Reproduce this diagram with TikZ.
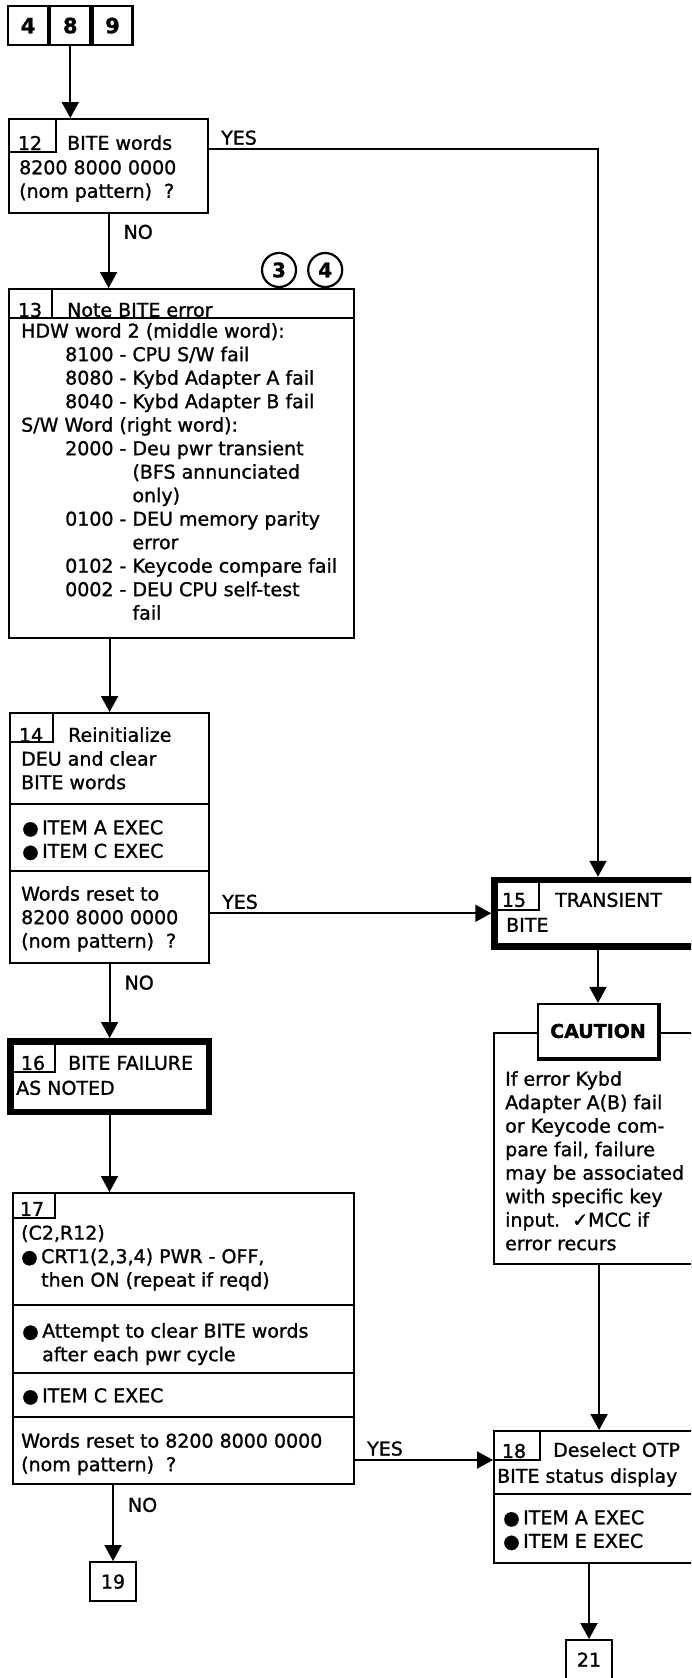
\documentclass[tikz,border=0pt]{standalone}
\usepackage{fontspec}
\setmainfont{DejaVu Sans}[FakeBold=1.2]
\usepackage{tikz}
\usetikzlibrary{positioning, arrows.meta, calc}

\newcommand{\bul}{\makebox[20pt][l]{●}}

\begin{document}
\begin{tikzpicture}[
        x=1pt, y=-1pt,
        every node/.style={font=\fontsize{19}{23.5}\selectfont, inner sep=0pt},
        box/.style={draw, line width=2.2pt, anchor=north west},
        heavy/.style={draw, line width=6.5pt, anchor=north west},
        cell/.style={draw, line width=2.2pt, minimum width=40pt, minimum height=39pt,
                     font=\fontsize{21}{21}\selectfont\bfseries},
        ring/.style={draw, circle, line width=2.2pt, minimum size=34pt,
                     font=\fontsize{20}{20}\selectfont\bfseries},
        txt/.style={anchor=north west, align=left},
        row/.style={anchor=base west},
        rule/.style={line width=2.2pt},
        arrow/.style={-{Triangle[length=16pt, width=17pt]}, line width=2pt},
        yeslbl/.style={anchor=base west, xshift=11pt, yshift=4.5pt},
        nolbl/.style={anchor=west, xshift=14pt}
    ]
    \useasboundingbox (0,0) rectangle (691,1678);
    \clip (0,0) rectangle (691,1678);

    % --- Entry ---
    \node[cell, anchor=north west] (n4) at (7,5) {4};
    \node[cell, right=0pt of n4] (n8) {8};
    \node[cell, right=0pt of n8] (n9) {9};

    % --- Step 12 ---
    \node[box, minimum width=199pt, minimum height=94pt] (b12) at (8,118) {};
    \draw[rule] ([xshift=48pt]b12.north west) -- ++(0,34) -- ++(-48,0);
    \node (t12) at (30,143) {12};
    \node[row] (s12) at (67,149.75) {BITE words};
    \node[txt] (x12) at (19,160) {8200 8000 0000\\(nom pattern)\ \ ?};

    % --- Step 13 ---
    \node[box, minimum width=345pt, minimum height=349pt] (b13) at (8,288) {};
    \draw[rule] (b13.north west) ++(0,30) -- ++(345,0);
    \draw[rule] ([xshift=44pt]b13.north west) -- ++(0,30);
    \node (t13) at (30,310) {13};
    \node[row] (s13) at (67,316.75) {Note BITE error};
    \node[txt] (x13) at (21,323) {HDW word 2 (middle word):\\
        \hspace*{44pt}8100 - CPU S/W fail\\
        \hspace*{44pt}8080 - Kybd Adapter A fail\\
        \hspace*{44pt}8040 - Kybd Adapter B fail\\
        S/W Word (right word):\\
        \hspace*{44pt}2000 - Deu pwr transient\\
        \hspace*{44pt}\phantom{2000 - }(BFS annunciated\\
        \hspace*{44pt}\phantom{2000 - }only)\\
        \hspace*{44pt}0100 - DEU memory parity\\
        \hspace*{44pt}\phantom{0100 - }error\\
        \hspace*{44pt}0102 - Keycode compare fail\\
        \hspace*{44pt}0002 - DEU CPU self-test\\
        \hspace*{44pt}\phantom{0002 - }fail};
    \node[ring] (c3) at (279,270) {3};
    \node[ring, right=10pt of c3] (c4) {4};

    % --- Step 14 ---
    \node[box, minimum width=199pt, minimum height=250pt] (b14) at (9,712) {};
    \draw[rule] ([xshift=44pt]b14.north west) -- ++(0,30) -- ++(-44,0);
    \draw[rule] (b14.north west) ++(0,92) -- ++(199,0);
    \draw[rule] (b14.north west) ++(0,159) -- ++(199,0);
    \node (t14) at (31,735) {14};
    \node[row] (s14) at (68,741.75) {Reinitialize};
    \node[txt] (x14) at (21,751) {DEU and clear\\BITE words};
    \node[txt] (i14) at (22,820) {\bul ITEM A EXEC\\\bul ITEM C EXEC};
    \node[txt] (q14) at (21,886) {Words reset to\\8200 8000 0000\\(nom pattern)\ \ ?};

    % --- Step 15 ---
    \node[heavy, minimum width=207pt, minimum height=66.5pt] (b15) at (491.25,876.75) {};
    \draw[rule] ([xshift=47.75pt]b15.north west) -- ++(0,33.25) -- ++(-47.75,0);
    \node (t15) at (514,900) {15};
    \node[row] (s15) at (555,906.75) {TRANSIENT};
    \node[row] (u15) at (506,931.75) {BITE};

    % --- Caution ---
    \node[box, minimum width=210pt, minimum height=231pt] (cframe) at (493,1032) {};
    \node[draw, fill=white, line width=2.2pt, minimum width=120pt, minimum height=54pt,
          font=\fontsize{19}{19}\selectfont\bfseries] (caution) at (598,1031) {CAUTION};
    \draw[line width=4pt] (caution.north east) -- (caution.south east) -- (caution.south west);
    \node[txt] (xc) at (505,1071) {If error Kybd\\Adapter A(B) fail\\or Keycode com-\\
        pare fail, failure\\may be associated\\with specific key\\input.\ \ ✓MCC if\\error recurs};

    % --- Step 16 ---
    \node[heavy, minimum width=198.5pt, minimum height=70.5pt] (b16) at (7,1038) {};
    \draw[rule] ([xshift=48pt]b16.north west) -- ++(0,34) -- ++(-48,0);
    \node (t16) at (33,1063) {16};
    \node[row] (s16) at (68,1069.75) {BITE FAILURE};
    \node[row] (u16) at (16,1094.75) {AS NOTED};

    % --- Step 17 ---
    \node[box, minimum width=341pt, minimum height=291pt] (b17) at (12,1192) {};
    \draw[rule] ([xshift=43pt]b17.north west) -- ++(0,26) -- ++(-43,0);
    \draw[rule] (b17.north west) ++(0,113) -- ++(341,0);
    \draw[rule] (b17.north west) ++(0,181) -- ++(341,0);
    \draw[rule] (b17.north west) ++(0,225) -- ++(341,0);
    \node (t17) at (32,1209) {17};
    \node[txt] (x17) at (21,1225) {(C2,R12)\\\bul CRT1(2,3,4) PWR - OFF,\\
        \hspace*{20pt}then ON (repeat if reqd)};
    \node[txt] (a17) at (22,1323) {\bul Attempt to clear BITE words\\\hspace*{20pt}after each pwr cycle};
    \node[txt] (i17) at (22,1388) {\bul ITEM C EXEC};
    \node[txt] (q17) at (21,1433) {Words reset to 8200 8000 0000\\(nom pattern)\ \ ?};

    % --- Step 18 ---
    \coordinate (tab18) at (540,1460);
    \node[box, minimum width=210pt, minimum height=132pt] (b18) at (493,1430) {};
    \draw[rule] (b18.north -| tab18) -- (tab18) -- (b18.west |- tab18);
    \draw[rule] (b18.north west) ++(0,64) -- ++(210,0);
    \node (t18) at (514,1451) {18};
    \node[row] (s18) at (553,1456.75) {Deselect OTP};
    \node[row] (u18) at (497,1482.75) {BITE status display};
    \node[txt] (i18) at (503,1510) {\bul ITEM A EXEC\\\bul ITEM E EXEC};

    % --- Exits ---
    \node[box, anchor=north, minimum width=46pt, minimum height=39pt] (b19) at (113,1561) {19};
    \node[box, anchor=north, minimum width=46pt, minimum height=39pt] (b21) at (589,1639) {21};

    % --- Arrows ---
    \draw[arrow] (n8) -- (n8 |- b12.north);
    \draw[arrow] ([yshift=17pt]b12.east) -| (b15.north) node[yeslbl, pos=0] {YES};
    \draw[arrow] (b12.south) -- (b12.south |- b13.north) node[nolbl, pos=0.24] {NO};
    \draw[arrow] (b14.north |- b13.south) -- (b14.north);
    \draw[arrow] (b15.west -| b14.east) -- (b15.west) node[yeslbl, pos=0] {YES};
    \draw[arrow] (b14.south) -- (b14.south |- b16.north) node[nolbl, pos=0.25] {NO};
    \draw[arrow] (b15.south) -- (caution.north);
    \draw[arrow] (b16.south) -- (b16.south |- b17.north);
    \draw[arrow] (cframe.south) -- (b18.north);
    \draw[arrow] (b17.east |- tab18) -- (b18.west |- tab18) node[yeslbl, pos=0] {YES};
    \draw[arrow] (b19.north |- b17.south) -- (b19.north) node[nolbl, pos=0.26] {NO};
    \draw[arrow] (b21.north |- b18.south) -- (b21.north);
\end{tikzpicture}
\end{document}
